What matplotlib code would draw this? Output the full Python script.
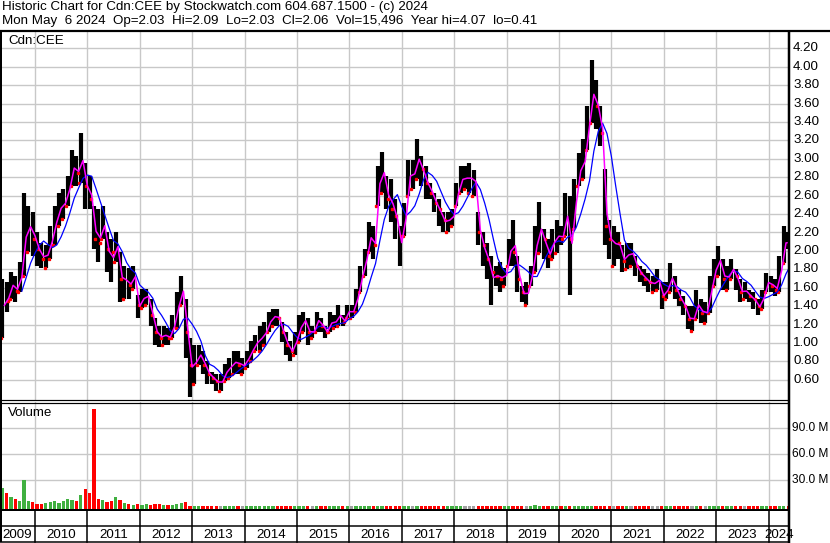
import matplotlib
matplotlib.use("Agg")
import matplotlib.pyplot as plt
from matplotlib.lines import Line2D
import numpy as np
import pandas as pd

plt.rcParams['font.family'] = ['Liberation Sans', 'DejaVu Sans']

W, H = 830, 543

TITLE1 = "Historic Chart for Cdn:CEE by Stockwatch.com 604.687.1500 - (c) 2024"
TITLE2 = "Mon May  6 2024  Op=2.03  Hi=2.09  Lo=2.03  Cl=2.06  Vol=15,496  Year hi=4.07  lo=0.41"
SYMBOL = "Cdn:CEE"

# monthly bars, May 2009 .. May 2024
START = "2009-05-01"
HIGH = [1.70, 1.66, 1.77, 1.73, 1.88, 2.63, 2.49, 2.42, 2.20, 2.09,
        2.06, 2.27, 2.49, 2.63, 2.67, 2.81, 3.10, 3.03, 3.28, 2.96,
        2.81, 2.49, 2.45, 2.49, 2.20, 2.13, 2.20, 1.99, 1.84, 1.81,
        1.84, 1.52, 1.59, 1.59, 1.48, 1.27, 1.19, 1.19, 1.16, 1.30,
        1.55, 1.73, 1.48, 1.05, 0.98, 0.98, 0.91, 0.80, 0.69, 0.66,
        0.66, 0.77, 0.84, 0.91, 0.91, 0.84, 0.91, 1.02, 1.09, 1.19,
        1.23, 1.34, 1.37, 1.37, 1.23, 1.12, 1.02, 1.12, 1.30, 1.34,
        1.27, 1.19, 1.34, 1.27, 1.19, 1.34, 1.30, 1.41, 1.30, 1.41,
        1.41, 1.59, 1.84, 2.02, 2.31, 2.27, 2.92, 3.07, 2.81, 2.78,
        2.56, 2.27, 2.52, 2.99, 2.99, 3.21, 3.03, 2.92, 2.74, 2.63,
        2.56, 2.42, 2.42, 2.45, 2.74, 2.92, 2.92, 2.96, 2.88, 2.42,
        2.20, 2.09, 1.95, 1.84, 1.88, 1.81, 2.13, 2.34, 1.95, 1.62,
        1.66, 1.84, 2.27, 2.53, 2.24, 2.13, 2.24, 2.34, 2.27, 2.63,
        2.60, 2.78, 3.06, 3.21, 3.57, 4.07, 3.86, 3.57, 2.89, 2.34,
        2.27, 2.20, 2.06, 2.09, 2.09, 1.94, 1.84, 1.80, 1.76, 1.73,
        1.80, 1.66, 1.66, 1.87, 1.73, 1.58, 1.51, 1.40, 1.40, 1.58,
        1.48, 1.44, 1.73, 1.91, 2.05, 1.91, 1.84, 1.91, 1.80, 1.69,
        1.66, 1.58, 1.55, 1.48, 1.58, 1.76, 1.73, 1.69, 1.94, 2.27,
        2.20]
LOW = [1.05, 1.34, 1.48, 1.45, 1.55, 1.73, 1.99, 1.95, 1.84, 1.81,
       1.81, 1.91, 2.06, 2.27, 2.35, 2.49, 2.71, 2.71, 2.74, 2.45,
       2.45, 2.02, 1.88, 2.13, 1.77, 1.66, 1.88, 1.45, 1.48, 1.48,
       1.59, 1.27, 1.38, 1.41, 1.19, 0.98, 0.96, 0.98, 0.98, 1.05,
       1.16, 1.41, 0.84, 0.41, 0.55, 0.76, 0.66, 0.55, 0.55, 0.48,
       0.48, 0.59, 0.62, 0.66, 0.66, 0.66, 0.73, 0.80, 0.91, 0.91,
       0.98, 1.12, 1.19, 1.19, 1.01, 0.87, 0.80, 0.87, 1.01, 1.12,
       0.98, 1.05, 1.12, 1.12, 1.05, 1.12, 1.16, 1.19, 1.19, 1.27,
       1.27, 1.34, 1.55, 1.73, 1.99, 1.91, 2.49, 2.63, 2.45, 2.31,
       2.13, 1.84, 2.16, 2.60, 2.67, 2.78, 2.71, 2.56, 2.56, 2.42,
       2.27, 2.20, 2.20, 2.27, 2.49, 2.63, 2.67, 2.63, 2.60, 2.06,
       1.84, 1.70, 1.41, 1.62, 1.55, 1.62, 1.84, 1.84, 1.55, 1.44,
       1.41, 1.62, 1.77, 1.98, 1.91, 1.81, 1.91, 1.98, 2.06, 2.16,
       1.52, 2.24, 2.70, 2.78, 3.10, 3.39, 3.32, 3.14, 2.06, 1.91,
       1.84, 1.91, 1.77, 1.80, 1.84, 1.73, 1.66, 1.62, 1.55, 1.55,
       1.58, 1.37, 1.48, 1.55, 1.48, 1.40, 1.30, 1.15, 1.13, 1.26,
       1.22, 1.22, 1.33, 1.62, 1.73, 1.58, 1.58, 1.69, 1.58, 1.44,
       1.48, 1.44, 1.37, 1.30, 1.37, 1.55, 1.55, 1.51, 1.55, 1.87,
       2.02]
CLOSE = [1.48, 1.46, 1.63, 1.57, 1.70, 2.09, 2.31, 2.13, 2.02, 1.91,
         1.99, 2.13, 2.38, 2.49, 2.53, 2.71, 2.89, 2.85, 2.92, 2.71,
         2.56, 2.13, 2.09, 2.20, 2.02, 1.99, 2.06, 1.70, 1.73, 1.63,
         1.73, 1.41, 1.48, 1.52, 1.30, 1.12, 1.05, 1.08, 1.05, 1.19,
         1.48, 1.55, 1.12, 0.76, 0.84, 0.87, 0.76, 0.66, 0.62, 0.59,
         0.59, 0.69, 0.76, 0.80, 0.76, 0.76, 0.84, 0.94, 1.01, 1.05,
         1.12, 1.23, 1.30, 1.27, 1.12, 0.98, 0.91, 1.05, 1.19, 1.27,
         1.12, 1.12, 1.27, 1.19, 1.12, 1.19, 1.23, 1.30, 1.23, 1.34,
         1.34, 1.52, 1.73, 1.95, 2.13, 2.06, 2.78, 2.85, 2.56, 2.45,
         2.38, 2.16, 2.38, 2.85, 2.85, 3.00, 2.89, 2.74, 2.63, 2.52,
         2.45, 2.34, 2.38, 2.41, 2.63, 2.78, 2.78, 2.78, 2.78, 2.20,
         2.06, 1.91, 1.77, 1.73, 1.70, 1.77, 2.02, 1.99, 1.70, 1.55,
         1.55, 1.77, 2.13, 2.20, 2.13, 1.95, 2.13, 2.16, 2.13, 2.34,
         2.13, 2.56, 2.85, 2.92, 3.39, 3.64, 3.57, 3.28, 2.27, 2.13,
         2.13, 2.09, 1.89, 1.98, 1.98, 1.84, 1.76, 1.69, 1.66, 1.66,
         1.66, 1.51, 1.58, 1.69, 1.58, 1.48, 1.40, 1.26, 1.26, 1.40,
         1.33, 1.33, 1.62, 1.84, 1.91, 1.69, 1.73, 1.80, 1.73, 1.55,
         1.55, 1.51, 1.48, 1.40, 1.51, 1.66, 1.62, 1.58, 1.87, 2.12,
         2.06]
# typical daily volume in each month, millions of shares
VOLUME_M = [21, 15, 11, 9, 6, 30, 6, 5, 2.5, 3,
            3.5, 5, 6, 3.5, 6, 8, 7, 6, 13, 20,
            15, 112, 9, 7, 5, 6, 11, 7, 3.5, 2.5,
            1.5, 2.5, 1.5, 2.5, 1.5, 2.5, 3, 1, 1.5, 1.5,
            2.5, 3.5, 5, 0.8, 0.3, 0.2, 0.2, 0.3, 0.2, 0.1,
            0.2, 0.1, 0.2, 0.3, 0.2, 0.2, 0.3, 0.2, 0.3, 0.2,
            0.3, 0.4, 0.8, 0.3, 0.2, 0.2, 0.1, 0.2, 0.3, 0.2,
            0.2, 0.1, 0.2, 0.2, 0.1, 0.2, 0.1, 0.2, 0.1, 0.2,
            0.2, 0.3, 0.3, 0.4, 0.4, 0.3, 0.5, 0.4, 0.3, 0.3,
            0.3, 0.3, 0.2, 0.3, 0.3, 0.4, 0.3, 0.2, 0.2, 0.2,
            0.2, 0.2, 0.1, 0.2, 0.2, 0.3, 0.2, 0.2, 0.2, 0.3,
            0.2, 0.2, 0.3, 0.2, 0.2, 0.1, 0.3, 0.3, 0.2, 0.2,
            0.2, 0.6, 1.2, 0.4, 0.3, 0.2, 0.2, 0.2, 0.2, 0.3,
            0.4, 0.3, 0.3, 0.3, 0.4, 0.4, 0.3, 0.3, 0.3, 0.2,
            0.2, 0.2, 0.2, 0.2, 0.2, 0.1, 0.2, 0.1, 0.2, 0.2,
            0.2, 0.2, 0.2, 0.2, 0.2, 0.1, 0.2, 0.2, 0.2, 0.2,
            0.2, 0.2, 0.3, 0.3, 0.2, 0.2, 0.2, 0.2, 0.1, 0.2,
            0.2, 0.1, 0.2, 0.2, 0.2, 0.2, 0.2, 0.2, 0.3, 0.3,
            0.2]
PRICE_TICKS = [0.60, 0.80, 1.00, 1.20, 1.40, 1.60, 1.80, 2.00, 2.20, 2.40,
               2.60, 2.80, 3.00, 3.20, 3.40, 3.60, 3.80, 4.00, 4.20]
VOL_TICKS_M = [30, 60, 90]

# ---------------------------------------------------------------
dates = pd.date_range(START, periods=len(CLOSE), freq="MS")
n = len(CLOSE)
xm = np.arange(n) + 0.5
close = pd.Series(CLOSE)
typical = (pd.Series(HIGH) + pd.Series(LOW) + close) / 3.0
ma_short = typical                      # ~20-day average (one month)
ma_long = typical.rolling(5).mean()     # ~100-day average (five months)
x_ma = np.arange(n) + 1.0               # averages end at month end
chg = close.diff().fillna(1).values
year_starts = [i for i, d in enumerate(dates) if d.month == 1]

PX_PER_MONTH = 52.4 / 12
XMAX = 789 / PX_PER_MONTH
PLEFT, PRIGHT = 0, 789
P_TOP, P_BOT = 31, 400
V_TOP, V_BOT = 402, 509
PY0, PSCALE = 48.3, 92.1    # y pixel of 4.20, pixels per 1.00
V_ZERO, V_SCALE = 506.3, 26 / 30.0

fig = plt.figure(figsize=(W / 100, H / 100), dpi=100)


def add_ax(x0, y0, x1, y1):
    a = fig.add_axes([x0 / W, 1 - y1 / H, (x1 - x0) / W, (y1 - y0) / H])
    for s in a.spines.values():
        s.set_visible(False)
    a.set_xticks([])
    a.set_yticks([])
    return a


def fline(x0, y0, x1, y1, lw=1.0, color="black"):
    fig.add_artist(Line2D([x0 / W, x1 / W], [1 - y0 / H, 1 - y1 / H],
                          transform=fig.transFigure, color=color,
                          linewidth=lw * 0.72, solid_capstyle="butt"))


def ftext(x, y, s, **kw):
    fig.text(x / W, 1 - y / H, s, **kw)


GRID = "#c8c8c8"
FS = 9.6

# ---------------- price panel ----------------
ax = add_ax(PLEFT, P_TOP, PRIGHT, P_BOT)
ax.set_xlim(0, XMAX)
ymin = 4.20 - (P_BOT - PY0) / PSCALE
ymax = 4.20 + (PY0 - P_TOP) / PSCALE
ax.set_ylim(ymin, ymax)
for t in PRICE_TICKS:
    ax.axhline(t, color=GRID, lw=1.0, zorder=0)
for i in year_starts:
    ax.axvline(i, color=GRID, lw=1.0, zorder=0)
ax.vlines(xm, LOW, HIGH, color="black", lw=3.0, zorder=2)
down = chg < 0
ax.plot(xm[down] + 0.3, close[down], ls="none", marker="s", ms=1.6,
        mfc="red", mec="red", zorder=3)
up = chg >= 0
ax.plot(xm[up] - 0.3, np.array(LOW)[up], ls="none", marker="s", ms=1.4,
        mfc="red", mec="red", zorder=3)
ax.plot(x_ma, ma_long, color="#0000ff", lw=0.9, zorder=4)
ax.plot(x_ma, ma_short, color="#ff00ff", lw=1.1, zorder=5)

# ---------------- volume panel ----------------
av = add_ax(PLEFT, V_TOP, PRIGHT, V_BOT)
av.set_xlim(0, XMAX)
vmin = -(V_BOT - V_ZERO) / V_SCALE
vmax = (V_ZERO - V_TOP) / V_SCALE
av.set_ylim(vmin, vmax)
for t in VOL_TICKS_M:
    av.axhline(t, color=GRID, lw=1.0, zorder=0)
for i in year_starts:
    av.axvline(i, color=GRID, lw=1.0, zorder=0)
vcol = ["#40b040" if c > 0 else ("#ff0000" if c < 0 else "#a0a0a0") for c in chg]
vol = np.array(VOLUME_M)
av.bar(xm, vol - vmin, bottom=vmin, width=0.75, color=vcol, linewidth=0, zorder=2)

# ---------------- date strip ----------------
ad = add_ax(PLEFT, V_BOT, PRIGHT, H)
ad.set_xlim(0, XMAX)
ad.set_ylim(H, V_BOT)
bounds = [0] + year_starts + [XMAX]
for i in year_starts:
    ad.plot([i, i], [V_BOT, H - 1], color="black", lw=1.1)
for k in range(len(bounds) - 1):
    yr = dates[0].year + k
    ad.text((bounds[k] + bounds[k + 1]) / 2, 534.5, str(yr), ha="center",
            va="center", fontsize=FS, clip_on=False)

# ---------------- frame ----------------
fline(0, 31, W, 31, lw=2.2)
fline(1, 31, 1, 542, lw=2)
fline(789, 31, 789, 543, lw=2.5)
fline(0, 400, 789, 400, lw=1.2)
fline(0, 402.5, 789, 402.5, lw=1.2)
fline(0, 509.5, 789, 509.5, lw=2)
fline(0, 526, 789, 526, lw=1.5)
fline(0, 542, 789, 542, lw=1.5)

# ---------------- texts ----------------
ftext(2, 1.0, TITLE1, fontsize=FS, va="top", ha="left")
ftext(2, 15.0, TITLE2, fontsize=FS, va="top", ha="left")
ftext(8, 41.5, SYMBOL, fontsize=FS, va="center", ha="left")
ftext(8, 413, "Volume", fontsize=FS, va="center", ha="left")
for t in PRICE_TICKS:
    ftext(793, PY0 + (4.20 - t) * PSCALE, f"{t:.2f}", fontsize=FS,
          va="center", ha="left")
for t in VOL_TICKS_M:
    ftext(792, V_ZERO - t * V_SCALE, f"{t:.1f} M", fontsize=8.6,
          va="center", ha="left")

fig.savefig("out.png", dpi=100)
